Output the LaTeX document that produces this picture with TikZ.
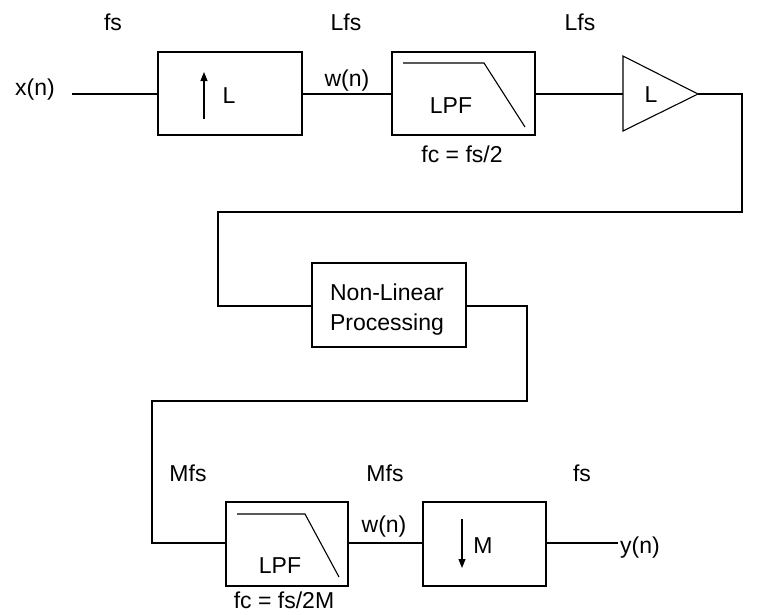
\documentclass[tikz,border=0pt]{standalone}
\usepackage{fontspec}
\setmainfont{Liberation Sans}
\usetikzlibrary{arrows.meta}
\begin{document}
\begin{tikzpicture}[x=1pt,y=-1pt,
  line width=1.1pt,
  every node/.style={font=\fontsize{23}{30}\selectfont},
  blk/.style={draw, rectangle, inner sep=0pt},
  lbl/.style={anchor=base, inner sep=0pt},
  rate/.style={-{Triangle[length=9pt,width=7pt]}}]
\useasboundingbox (0,0) rectangle (758,614);
% blocks
\node[blk, minimum width=144pt, minimum height=83pt] (up) at (230,93.5) {};
\node[blk, minimum width=143pt, minimum height=83pt] (lpfa) at (463.5,93.5) {};
\node[blk, minimum width=154pt, minimum height=84pt] (nlp) at (389,305) {};
\node[blk, minimum width=122pt, minimum height=84pt] (lpfb) at (287,544) {};
\node[blk, minimum width=123pt, minimum height=84pt] (down) at (484.5,544) {};
% amplifier triangle
\coordinate (triin) at (623,94);
\coordinate (triout) at (698,94);
\draw (623,56) -- (triout) -- (623,131) -- cycle;
% filter curves
\draw (403,63) -- (484,63) -- (525,127);
\draw (237,514) -- (305,514) -- (339,577);
% rate arrows
\coordinate (upa) at (204,119); \coordinate (upb) at (204,72);
\draw[rate] (upa) -- (upb);
\coordinate (dna) at (462,519); \coordinate (dnb) at (462,568);
\draw[rate] (dna) -- (dnb);
% texts
\node[lbl] (xn) at (35,95) {x(n)};
\node[lbl] (fs1) at (113,30) {fs};
\node[lbl] (lfs1) at (346,30) {Lfs};
\node[lbl] (wn1) at (347,86) {w(n)};
\node[lbl] (lup) at (229,103) {L};
\node[lbl] (lpfat) at (451,113) {LPF};
\node[lbl] (fca) at (462,162) {fc = fs/2};
\node[lbl] (lfs2) at (580,30) {Lfs};
\node[lbl] (ltri) at (651,102) {L};
\node[lbl] (nlpa) at (387,300) {Non-Linear};
\node[lbl] (nlpb) at (387,330) {Processing};
\node[lbl] (mfs1) at (188,481) {Mfs};
\node[lbl] (mfs2) at (385,481) {Mfs};
\node[lbl] (fs2) at (582,481) {fs};
\node[lbl] (wn2) at (384,532) {w(n)};
\node[lbl] (lpfbt) at (280,573) {LPF};
\node[lbl] (fcb) at (284,608) {fc = fs/2M};
\node[lbl] (mdn) at (483,553) {M};
\node[lbl] (yn) at (640,553) {y(n)};
% wires
\coordinate (xin) at (72,94);
\coordinate (c1) at (742,94);
\coordinate (c2) at (742,212);
\coordinate (c3) at (218,212);
\coordinate (c4) at (218,306);
\coordinate (c5) at (527,306);
\coordinate (c6) at (527,401);
\coordinate (c7) at (152,401);
\coordinate (c8) at (152,543);
\coordinate (yout) at (618,543);
\draw (xin) -- (up.west |- xin);
\draw (up.east |- xin) -- (lpfa.west |- xin);
\draw (lpfa.east |- xin) -- (triin);
\draw (triout) -- (c1) -- (c2) -- (c3) -- (c4) -- (nlp.west |- c4);
\draw (nlp.east |- c5) -- (c5) -- (c6) -- (c7) -- (c8) -- (lpfb.west |- c8);
\draw (lpfb.east |- c8) -- (down.west |- c8);
\draw (down.east |- yout) -- (yout);
\end{tikzpicture}
\end{document}
